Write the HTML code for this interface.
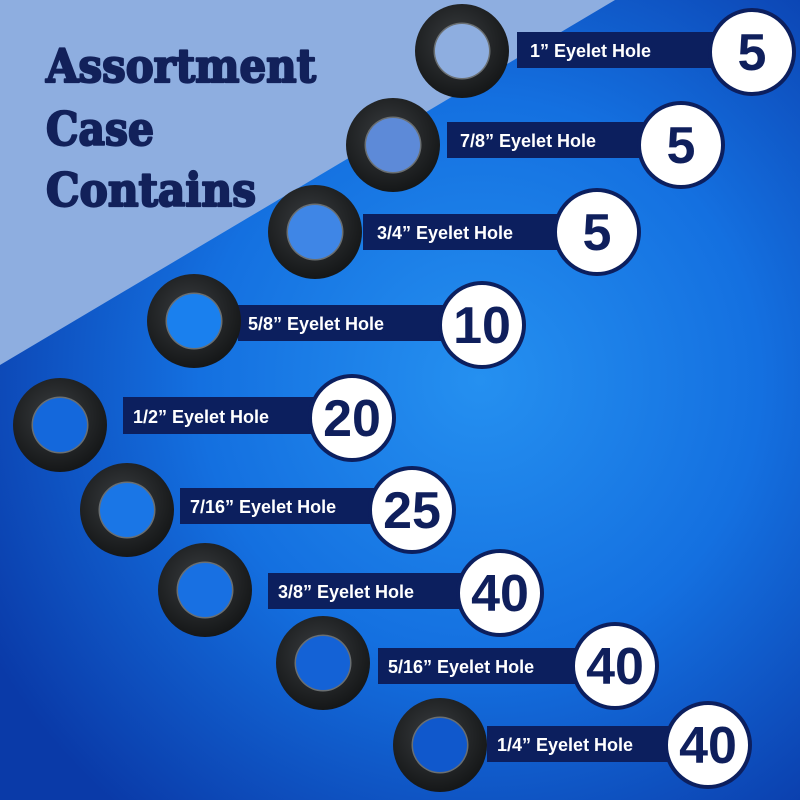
<!DOCTYPE html>
<html><head><meta charset="utf-8"><style>html,body{margin:0;padding:0;width:800px;height:800px;overflow:hidden}</style></head>
<body>
<svg width="800" height="800" viewBox="0 0 800 800" xmlns="http://www.w3.org/2000/svg">
<defs>
<radialGradient id="bg" cx="480" cy="380" r="560" gradientUnits="userSpaceOnUse">
<stop offset="0" stop-color="#2590f0"/>
<stop offset="0.5" stop-color="#1470e0"/>
<stop offset="1" stop-color="#0a3aa8"/>
</radialGradient>
<radialGradient id="ring" cx="0.45" cy="0.4" r="0.6">
<stop offset="0" stop-color="#3a3d40"/>
<stop offset="1" stop-color="#151718"/>
</radialGradient>
<g id="r">
<circle r="47" fill="url(#ring)"/>
<circle r="28.5" fill="#6a6f72"/>
</g>
</defs>
<rect width="800" height="800" fill="url(#bg)"/>
<polygon points="0,0 615,0 0,365" fill="#8eaee0"/>
<g font-family="'DejaVu Serif', serif" font-weight="900" font-size="46" fill="#12215a" stroke="#12215a" stroke-width="2.2" stroke-linejoin="round">
<text x="46" y="82" textLength="270" lengthAdjust="spacingAndGlyphs">Assortment</text>
<text x="46" y="145" textLength="108" lengthAdjust="spacingAndGlyphs">Case</text>
<text x="46" y="206" textLength="210" lengthAdjust="spacingAndGlyphs">Contains</text>
</g>
<g font-family="'Liberation Sans', Arial, sans-serif" font-weight="bold">
<g>
<rect x="517" y="32" width="200" height="36" fill="#0c1f5e"/><text x="530" y="57" font-size="18" fill="#fff">1” Eyelet Hole</text>
<circle cx="752" cy="52" r="42" fill="#fff" stroke="#0c1f5e" stroke-width="4"/><text x="752" y="70" font-size="52" fill="#0f1f5c" text-anchor="middle">5</text>
<use href="#r" x="462" y="51"/><circle cx="462" cy="51" r="27" fill="#8eaee0"/>
</g>
<g>
<rect x="447" y="122" width="200" height="36" fill="#0c1f5e"/><text x="460" y="147" font-size="18" fill="#fff">7/8” Eyelet Hole</text>
<circle cx="681" cy="145" r="42" fill="#fff" stroke="#0c1f5e" stroke-width="4"/><text x="681" y="163" font-size="52" fill="#0f1f5c" text-anchor="middle">5</text>
<use href="#r" x="393" y="145"/><circle cx="393" cy="145" r="27" fill="#5d8ad8"/>
</g>
<g>
<rect x="363" y="214" width="200" height="36" fill="#0c1f5e"/><text x="377" y="239" font-size="18" fill="#fff">3/4” Eyelet Hole</text>
<circle cx="597" cy="232" r="42" fill="#fff" stroke="#0c1f5e" stroke-width="4"/><text x="597" y="250" font-size="52" fill="#0f1f5c" text-anchor="middle">5</text>
<use href="#r" x="315" y="232"/><circle cx="315" cy="232" r="27" fill="#3f86e6"/>
</g>
<g>
<rect x="238" y="305" width="210" height="36" fill="#0c1f5e"/><text x="248" y="330" font-size="18" fill="#fff">5/8” Eyelet Hole</text>
<circle cx="482" cy="325" r="42" fill="#fff" stroke="#0c1f5e" stroke-width="4"/><text x="482" y="343" font-size="52" fill="#0f1f5c" text-anchor="middle">10</text>
<use href="#r" x="194" y="321"/><circle cx="194" cy="321" r="27" fill="#1a80ee"/>
</g>
<g>
<rect x="123" y="397" width="200" height="37" fill="#0c1f5e"/><text x="133" y="423" font-size="18" fill="#fff">1/2” Eyelet Hole</text>
<circle cx="352" cy="418" r="42" fill="#fff" stroke="#0c1f5e" stroke-width="4"/><text x="352" y="436" font-size="52" fill="#0f1f5c" text-anchor="middle">20</text>
<use href="#r" x="60" y="425"/><circle cx="60" cy="425" r="27" fill="#1468dc"/>
</g>
<g>
<rect x="180" y="488" width="210" height="36" fill="#0c1f5e"/><text x="190" y="513" font-size="18" fill="#fff">7/16” Eyelet Hole</text>
<circle cx="412" cy="510" r="42" fill="#fff" stroke="#0c1f5e" stroke-width="4"/><text x="412" y="528" font-size="52" fill="#0f1f5c" text-anchor="middle">25</text>
<use href="#r" x="127" y="510"/><circle cx="127" cy="510" r="27" fill="#1a76e6"/>
</g>
<g>
<rect x="268" y="573" width="210" height="36" fill="#0c1f5e"/><text x="278" y="598" font-size="18" fill="#fff">3/8” Eyelet Hole</text>
<circle cx="500" cy="593" r="42" fill="#fff" stroke="#0c1f5e" stroke-width="4"/><text x="500" y="611" font-size="52" fill="#0f1f5c" text-anchor="middle">40</text>
<use href="#r" x="205" y="590"/><circle cx="205" cy="590" r="27" fill="#1870e2"/>
</g>
<g>
<rect x="378" y="648" width="210" height="36" fill="#0c1f5e"/><text x="388" y="673" font-size="18" fill="#fff">5/16” Eyelet Hole</text>
<circle cx="615" cy="666" r="42" fill="#fff" stroke="#0c1f5e" stroke-width="4"/><text x="615" y="684" font-size="52" fill="#0f1f5c" text-anchor="middle">40</text>
<use href="#r" x="323" y="663"/><circle cx="323" cy="663" r="27" fill="#1462d6"/>
</g>
<g>
<rect x="487" y="726" width="200" height="36" fill="#0c1f5e"/><text x="497" y="751" font-size="18" fill="#fff">1/4” Eyelet Hole</text>
<circle cx="708" cy="745" r="42" fill="#fff" stroke="#0c1f5e" stroke-width="4"/><text x="708" y="763" font-size="52" fill="#0f1f5c" text-anchor="middle">40</text>
<use href="#r" x="440" y="745"/><circle cx="440" cy="745" r="27" fill="#1058cc"/>
</g>
</g>
</svg>
</body></html>
